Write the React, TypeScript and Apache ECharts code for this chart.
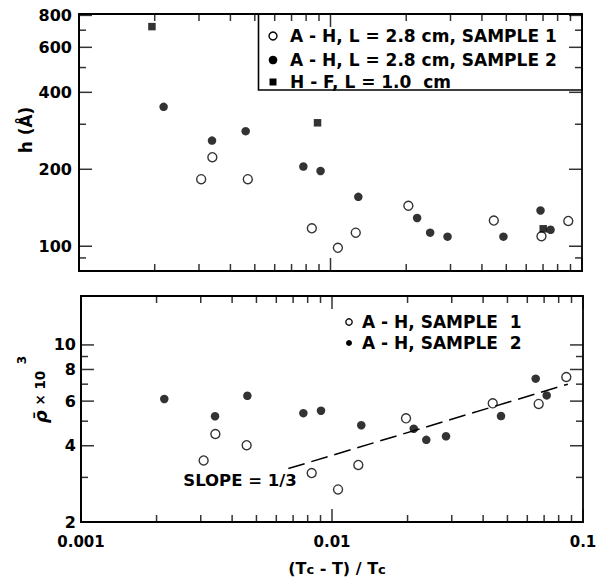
import React, { useEffect, useRef } from "react";
import * as echarts from "echarts";

const F = "'DejaVu Sans'";

const X_MAJOR = [0.001, 0.01, 0.1];
const X_MINOR = [0.002, 0.003, 0.004, 0.005, 0.006, 0.007, 0.008, 0.009, 0.02, 0.03, 0.04, 0.05, 0.06, 0.07, 0.08, 0.09];
const X_LABELS = ["0.001", "0.01", "0.1"];

const H_Y_MAJOR = [100, 200, 400, 600, 800];
const H_Y_MINOR = [90, 300, 500, 700];
const H_Y_LABELS = ["100", "200", "400", "600", "800"];

const R_Y_MAJOR = [2, 4, 6, 8, 10];
const R_Y_MINOR = [3, 5, 7, 9];
const R_Y_LABELS = ["2", "4", "6", "8", "10"];

// top panel: h (Å)
const H_SAMPLE1 = [[0.00306, 183], [0.00339, 223], [0.00469, 183], [0.00843, 117.5], [0.0107, 98.6], [0.0126, 113], [0.0204, 144], [0.0446, 126], [0.069, 109.4], [0.0882, 125.6]];
const H_SAMPLE2 = [[0.00217, 351], [0.00338, 259], [0.0046, 282], [0.0078, 205], [0.00913, 197], [0.0129, 156], [0.0221, 129], [0.0249, 113], [0.0292, 109], [0.0487, 109], [0.0684, 138], [0.075, 116]];
const H_HF = [[0.00195, 723], [0.00888, 304], [0.0701, 117]];

// bottom panel: rho x 10^3
const R_SAMPLE1 = [[0.00308, 3.5], [0.00343, 4.45], [0.00457, 4.02], [0.0083, 3.12], [0.01057, 2.69], [0.01273, 3.36], [0.01972, 5.13], [0.04369, 5.88], [0.06659, 5.85], [0.0858, 7.47]];
const R_SAMPLE2 = [[0.002147, 6.12], [0.00342, 5.23], [0.0046, 6.3], [0.00769, 5.38], [0.00904, 5.5], [0.01308, 4.82], [0.02117, 4.67], [0.02375, 4.22], [0.02846, 4.36], [0.04713, 5.24], [0.06479, 7.36], [0.07167, 6.32]];
const SLOPE_LINE = [[0.0067, 3.25], [0.087, 7.0]];

const LEGEND_TOP = ["A - H, L = 2.8 cm, SAMPLE 1", "A - H, L = 2.8 cm, SAMPLE 2", "H - F, L = 1.0  cm"];
const LEGEND_BOTTOM = ["A - H, SAMPLE  1", "A - H, SAMPLE  2"];

const MAJ = 13;
const MIN = 7;

function tickSeries(yMin: number, yMax: number, yMajor: number[], yMinor: number[]) {
  const out: any[] = [];
  const add = (data: number[][], size: number[], offset: number[]) =>
    out.push({ type: "scatter", symbol: "rect", data, symbolSize: size, symbolOffset: offset, itemStyle: { color: "#000" }, clip: false });
  add(X_MAJOR.map((v) => [v, yMin]), [1.5, MAJ], [0, -MAJ / 2]);
  add(X_MAJOR.map((v) => [v, yMax]), [1.5, MAJ], [0, MAJ / 2]);
  add(X_MINOR.map((v) => [v, yMin]), [1.5, MIN], [0, -MIN / 2]);
  add(X_MINOR.map((v) => [v, yMax]), [1.5, MIN], [0, MIN / 2]);
  add(yMajor.map((v) => [0.001, v]), [MAJ, 1.5], [MAJ / 2, 0]);
  add(yMajor.map((v) => [0.1, v]), [MAJ, 1.5], [-MAJ / 2, 0]);
  add(yMinor.map((v) => [0.001, v]), [MIN, 1.5], [MIN / 2, 0]);
  add(yMinor.map((v) => [0.1, v]), [MIN, 1.5], [-MIN / 2, 0]);
  return out;
}

const axisCfg = (min: number, max: number) => ({
  type: "log", min, max,
  axisLine: { show: true, lineStyle: { color: "#000", width: 1.8 } },
  axisTick: { show: false },
  axisLabel: { show: false },
  splitLine: { show: false },
});

function txt(text: string, x: number, y: number, size: number, extra: any = {}) {
  return {
    type: "text", x, y, ...(extra.rotation ? { rotation: extra.rotation } : {}),
    style: { text, font: `bold ${size}px ${F}`, fill: "#000", align: extra.align || "left", verticalAlign: "middle" },
  };
}

export default function App() {
  const topRef = useRef<HTMLDivElement>(null);
  const botRef = useRef<HTMLDivElement>(null);
  useEffect(() => {
    document.body.style.margin = "0";

    // ---------- top panel ----------
    const top = echarts.init(topRef.current!, null, { renderer: "svg" });
    top.setOption({
      animation: false,
      backgroundColor: "#fff",
      grid: { left: 79, top: 14, width: 503, height: 257, show: true, borderColor: "#000", borderWidth: 1.8 },
      xAxis: axisCfg(0.001, 0.1),
      yAxis: axisCfg(80, 810),
      series: [
        ...tickSeries(80, 810, H_Y_MAJOR, H_Y_MINOR),
        { type: "scatter", data: H_SAMPLE1, symbol: "circle", symbolSize: 9, itemStyle: { color: "#fff", borderColor: "#000", borderWidth: 1.4 } },
        { type: "scatter", data: H_SAMPLE2, symbol: "circle", symbolSize: 8.5, itemStyle: { color: "#000" } },
        { type: "scatter", data: H_HF, symbol: "rect", symbolSize: 7.5, itemStyle: { color: "#000" } },
      ],
    });
    const gt: any[] = [];
    {
      const px = (x: number, y: number) => top.convertToPixel({ gridIndex: 0 }, [x, y]) as number[];
      const L = px(0.001, 80)[0];
      H_Y_MAJOR.forEach((v, i) => gt.push(txt(H_Y_LABELS[i], L - 7, px(0.01, v)[1], 16, { align: "right" })));
    }
    gt.push({ type: "rect", shape: { x: 258.5, y: 14, width: 323.5, height: 76 }, style: { fill: "none", stroke: "#000", lineWidth: 1.6 } });
    gt.push({ type: "circle", shape: { cx: 273, cy: 36, r: 4 }, style: { fill: "#fff", stroke: "#000", lineWidth: 1.4 } });
    gt.push({ type: "circle", shape: { cx: 273, cy: 60, r: 4.3 }, style: { fill: "#000" } });
    gt.push({ type: "rect", shape: { x: 269.5, y: 78.5, width: 7, height: 7 }, style: { fill: "#000" } });
    gt.push(txt(LEGEND_TOP[0], 290, 36, 17));
    gt.push(txt(LEGEND_TOP[1], 290, 60, 17));
    gt.push(txt(LEGEND_TOP[2], 290, 82, 17));
    gt.push(txt("h (Å)", 26, 130, 17, { align: "center", rotation: Math.PI / 2 }));
    top.setOption({ graphic: gt });

    // ---------- bottom panel (div starts at y = 283) ----------
    const bot = echarts.init(botRef.current!, null, { renderer: "svg" });
    bot.setOption({
      animation: false,
      backgroundColor: "#fff",
      grid: { left: 81, top: 13, width: 502, height: 226, show: true, borderColor: "#000", borderWidth: 1.8 },
      xAxis: axisCfg(0.001, 0.1),
      yAxis: axisCfg(2, 15.6),
      series: [
        ...tickSeries(2, 15.6, R_Y_MAJOR, R_Y_MINOR),
        { type: "scatter", data: R_SAMPLE1, symbol: "circle", symbolSize: 9, itemStyle: { color: "#fff", borderColor: "#000", borderWidth: 1.4 } },
        { type: "scatter", data: R_SAMPLE2, symbol: "circle", symbolSize: 8.5, itemStyle: { color: "#000" } },
        { type: "line", data: SLOPE_LINE, symbol: "none", lineStyle: { color: "#000", width: 1.5, type: [17, 7] } },
      ],
    });
    const gb: any[] = [];
    {
      const px = (x: number, y: number) => bot.convertToPixel({ gridIndex: 0 }, [x, y]) as number[];
      const [L, B] = px(0.001, 2);
      R_Y_MAJOR.forEach((v, i) => gb.push(txt(R_Y_LABELS[i], L - 5, px(0.01, v)[1], 16, { align: "right" })));
      X_MAJOR.forEach((v, i) => gb.push(txt(X_LABELS[i], px(v, 2)[0], B + 20, 15, { align: "center" })));
    }
    gb.push({ type: "circle", shape: { cx: 349, cy: 39, r: 3.2 }, style: { fill: "#fff", stroke: "#000", lineWidth: 1.3 } });
    gb.push({ type: "circle", shape: { cx: 349, cy: 60, r: 3 }, style: { fill: "#000" } });
    gb.push(txt(LEGEND_BOTTOM[0], 362, 39, 17));
    gb.push(txt(LEGEND_BOTTOM[1], 362, 60, 17));
    gb.push(txt("SLOPE = 1/3", 240, 197, 16.5, { align: "center" }));
    gb.push({
      type: "text", x: 337, y: 282,
      style: {
        text: "{b|(T}{s|c}{b| - T) / T}{s|c}",
        align: "center", verticalAlign: "middle", fill: "#000",
        rich: {
          b: { font: `bold 16px ${F}`, lineHeight: 22, verticalAlign: "bottom" },
          s: { font: `bold 13px ${F}`, lineHeight: 4, verticalAlign: "bottom" },
        },
      },
    });
    gb.push({
      type: "text", x: 40, y: 114, rotation: Math.PI / 2,
      style: {
        text: "{r|ρ̄}{t| × 10}",
        align: "center", verticalAlign: "middle", fill: "#000",
        rich: {
          r: { font: `italic bold 18px ${F}` },
          t: { font: `bold 13.5px ${F}` },
        },
      },
    });
    gb.push({ type: "text", x: 22, y: 77, rotation: Math.PI / 2, style: { text: "3", font: `bold 12px ${F}`, fill: "#000", align: "center", verticalAlign: "middle" } });
    bot.setOption({ graphic: gb });

    return () => {
      top.dispose();
      bot.dispose();
    };
  }, []);
  return (
    <div style={{ width: 600, height: 578, background: "#fff" }}>
      <div ref={topRef} style={{ width: 600, height: 283 }} />
      <div ref={botRef} style={{ width: 600, height: 295 }} />
    </div>
  );
}
